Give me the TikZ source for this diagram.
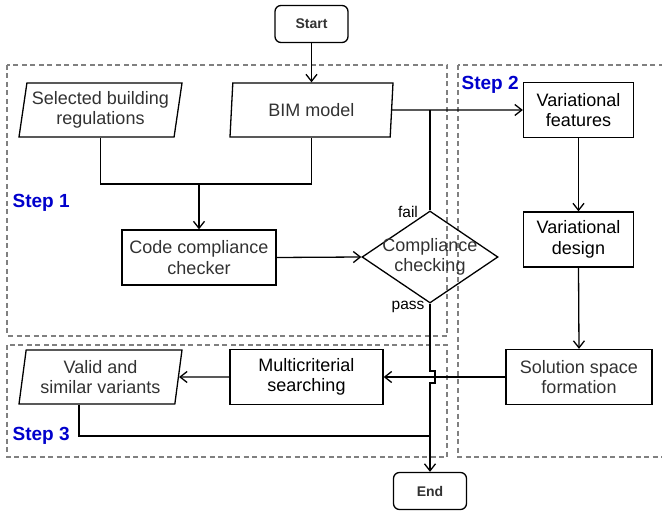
\documentclass[tikz,border=0pt]{standalone}
\usepackage{fontspec}
\setmainfont{Liberation Sans}
\usetikzlibrary{arrows.meta,shapes.geometric,calc}
\definecolor{txtgray}{RGB}{50,50,50}
\definecolor{stepblue}{RGB}{0,0,204}
\definecolor{framegray}{RGB}{128,128,128}
\begin{document}
\begin{tikzpicture}[x=1pt, y=-1pt, line width=1.3pt,
	box/.style={draw, rectangle, inner sep=0pt, align=center, text=txtgray, font=\fontsize{18}{20.5}\selectfont},
	data/.style={draw, trapezium, trapezium left angle=78, trapezium right angle=102, trapezium stretches body, inner sep=0pt, align=center, minimum width=163, minimum height=54, text=txtgray, font=\fontsize{18}{20.5}\selectfont},
	term/.style={draw, rectangle, rounded corners=6pt, minimum width=73, minimum height=37, inner sep=0pt, text=txtgray, font=\bfseries\fontsize{14}{16}\selectfont},
	dec/.style={draw, diamond, minimum width=136, minimum height=92, inner sep=0pt},
	frame/.style={draw=framegray, line width=1.2pt, dash pattern={on 5pt off 3.5pt}},
	steplabel/.style={anchor=west, inner sep=0pt, text=stepblue, font=\bfseries\fontsize{19}{22}\selectfont},
	edgelabel/.style={inner sep=0pt, font=\fontsize{15.5}{18}\selectfont},
	flow/.style={-{Straight Barb[length=7pt,width=11pt]}}]
	\useasboundingbox (0,0) rectangle (662,513);
	\draw[frame] (7,65) rectangle (447,336);
	\draw[frame] (458,65) rectangle (666,457);
	\draw[frame] (7,345) rectangle (447,457);
	\node[steplabel] (s1) at (12,203) {Step 1};
	\node[steplabel] (s2) at (461,85) {Step 2};
	\node[steplabel] (s3) at (12,436) {Step 3};
	\node[term] (start) at (311.5,24) {Start};
	\node[data] (sel) at (100.5,110) {Selected building\\regulations};
	\node[data] (bim) at (311.5,110) {BIM model};
	\node[box, minimum width=154, minimum height=55] (code) at (199,257.5) {Code compliance\\checker};
	\node[dec] (dia) at (430,257) {};
	\node[box, draw=none] (diatext) at (dia) {Compliance\\checking};
	\node[box, text=black, minimum width=110, minimum height=55] (varf) at (578.5,110) {Variational\\features};
	\node[box, text=black, minimum width=110, minimum height=55] (vard) at (578.5,239.5) {Variational\\design};
	\node[box, minimum width=146, minimum height=55] (sol) at (579,377) {Solution space\\formation};
	\node[box, text=black, minimum width=153, minimum height=55] (multi) at (306.5,377) {Multicriterial\\searching};
	\node[data] (valid) at (100.5,377) {Valid and\\similar variants};
	\node[term] (end) at (430,491) {End};
	\node[edgelabel] (fail) at (408,212) {fail};
	\node[edgelabel] (pass) at (408,307) {pass};
	\coordinate (jn) at (code.north |- 0,184);
	\coordinate (hop) at (dia.south |- sol.west);
	\coordinate (lk) at (79,436);
	\draw[flow] (start.south) -- (start.south |- bim.north);
	\draw (sel.south) |- (bim.south |- jn) -- (bim.south);
	\draw[flow] (jn) -- (code.north);
	\draw[flow] (code.east) -- (dia.west);
	\draw[flow] (bim.east) -- (varf.west);
	\draw (dia.north) -- (dia.north |- varf.west);
	\draw[flow] (varf.south) -- (vard.north);
	\draw[flow] (vard.south) -- (sol.north);
	\draw[flow] (sol.west) -- (multi.east);
	\draw[flow] (multi.west) -- (valid.east);
	\draw[flow] (dia.south) -- ($(hop)+(0,-6)$) -- ++(5,0) -- ++(0,12) -- ++(-5,0) -- (end.north);
	\draw (valid.south -| lk) |- (dia.south |- lk);
\end{tikzpicture}
\end{document}
